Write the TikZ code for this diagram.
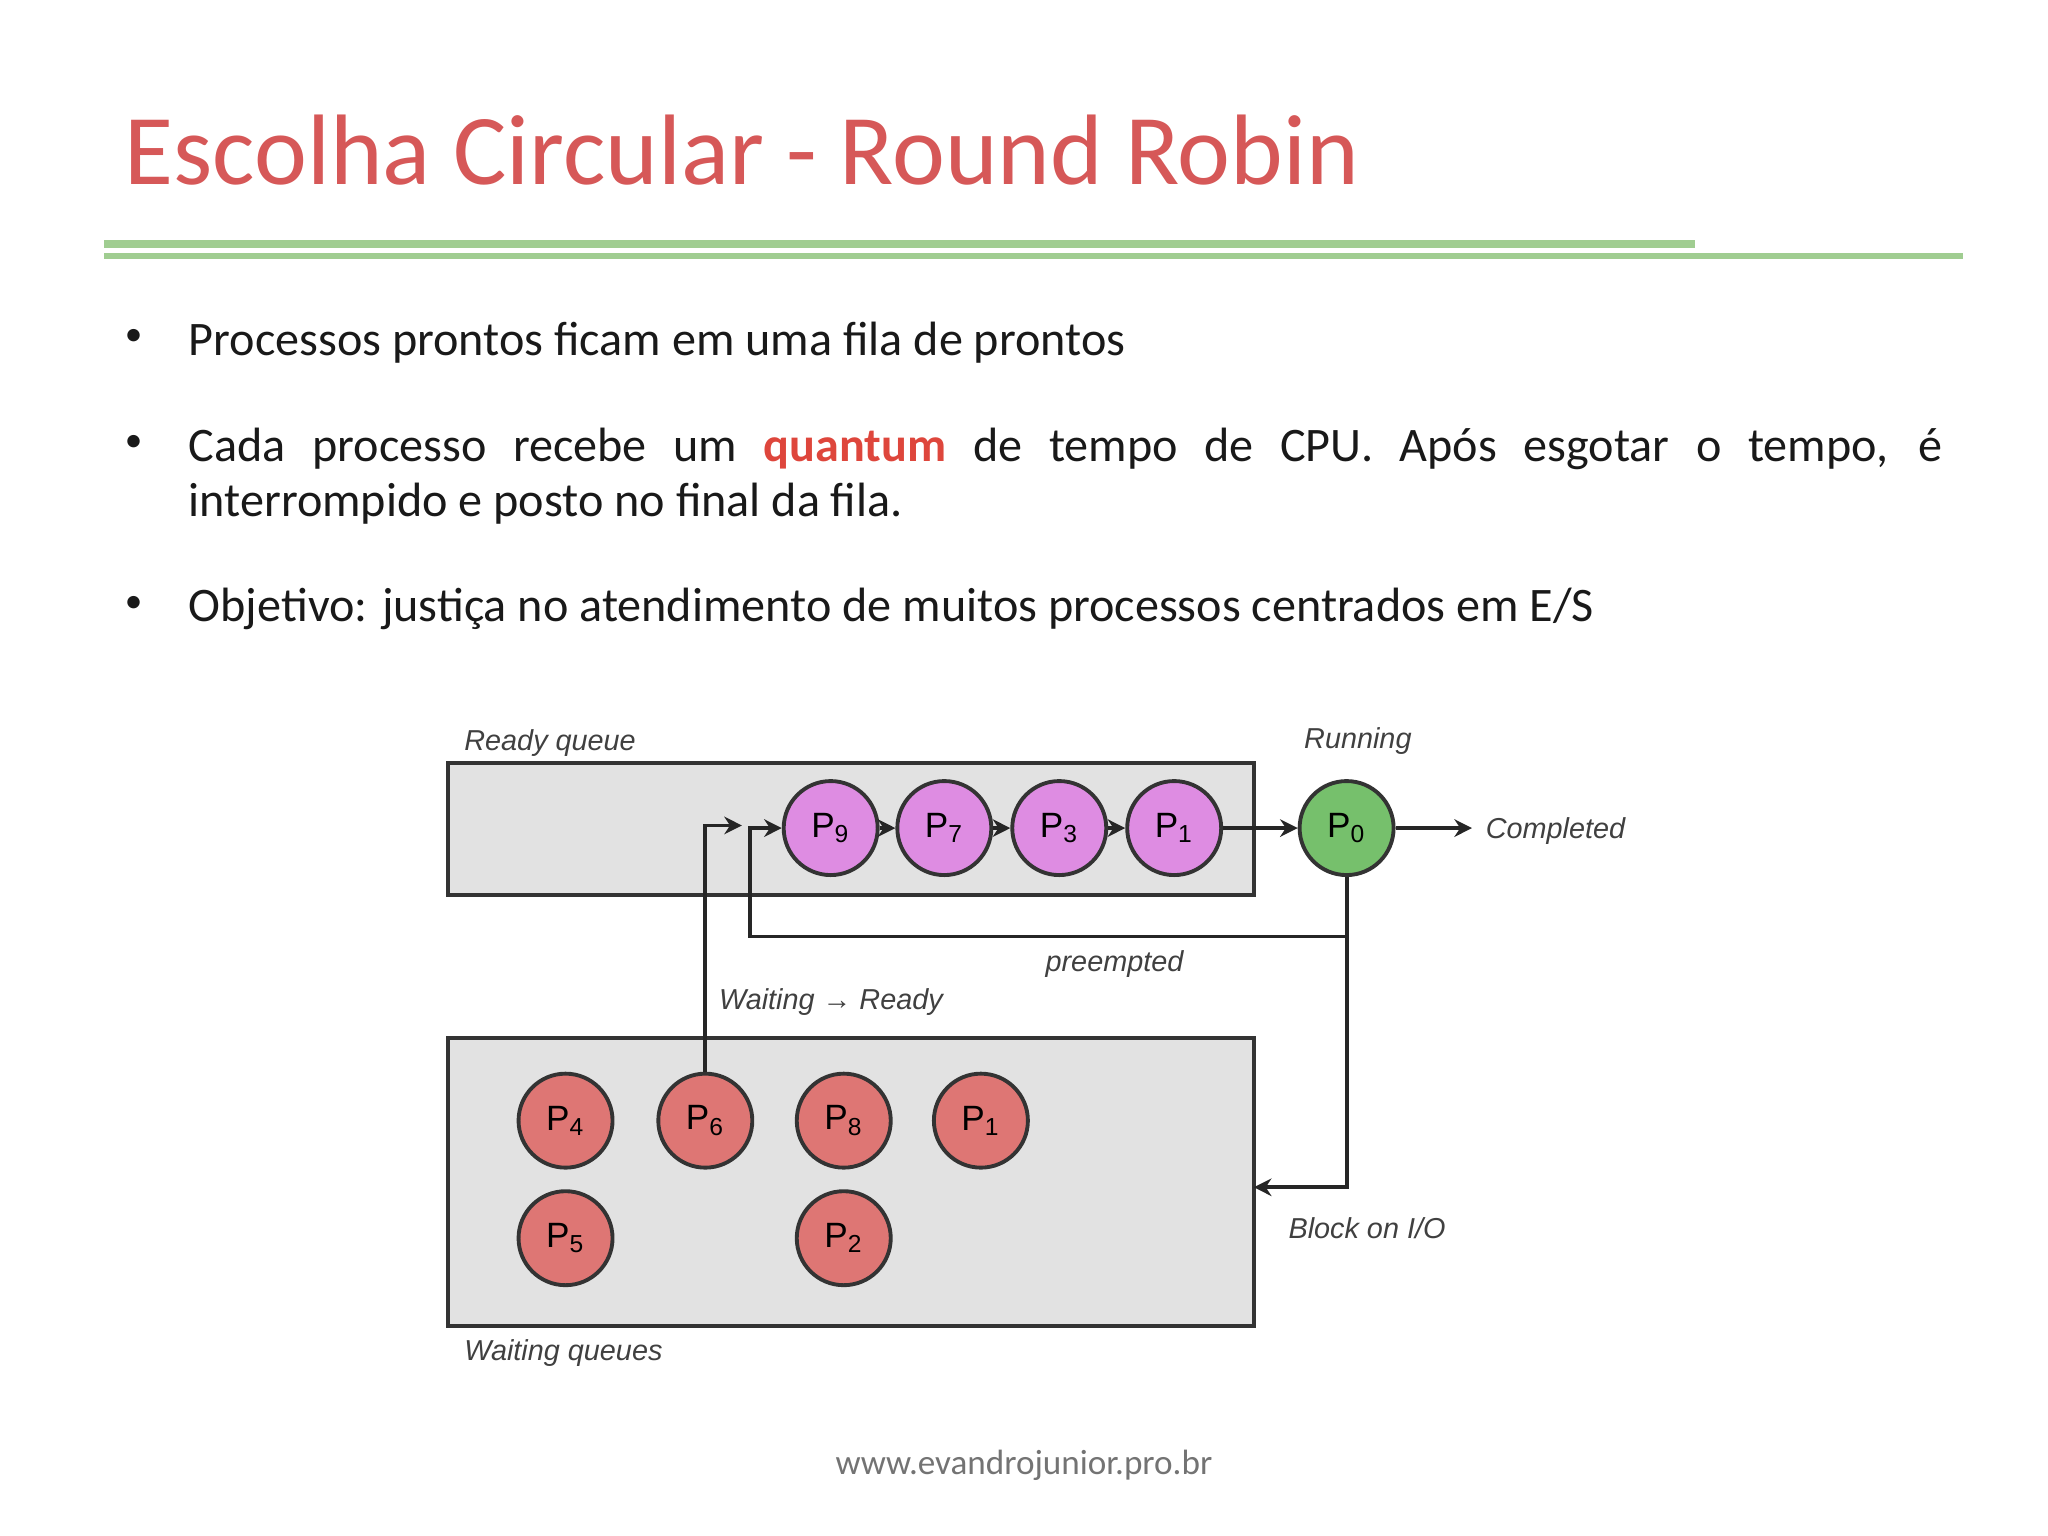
\documentclass[tikz,border=0pt]{standalone}
\usepackage{fontspec}
\setmainfont{Carlito}
\newfontfamily\lab{Liberation Sans}
\usetikzlibrary{arrows.meta}
\definecolor{titlered}{RGB}{214,88,88}
\definecolor{lgreen}{RGB}{160,205,145}
\definecolor{boxgray}{RGB}{226,226,226}
\definecolor{purp}{RGB}{222,140,226}
\definecolor{grn}{RGB}{118,192,108}
\definecolor{rd}{RGB}{222,118,116}
\definecolor{qred}{RGB}{222,70,60}
\tikzset{
  proc/.style={circle,draw=black!80,line width=1.1pt,minimum size=0.94cm,inner sep=0pt,font=\lab\fontsize{10}{12}\selectfont},
  lbl/.style={font=\lab\itshape\fontsize{8.2}{10}\selectfont,text=black!75,inner sep=0pt},
  qbox/.style={draw=black!80,line width=1.1pt,fill=boxgray},
  conn/.style={line width=1.1pt,draw=black!85,-{Stealth[length=5pt,width=5pt]}},
  bul/.style={anchor=north west,inner sep=0pt,font=\fontsize{13.7}{15.6}\selectfont,text=black!90}
}
\begin{document}
\begin{tikzpicture}[x=0.01306cm,y=-0.01306cm]
\useasboundingbox (0,0) rectangle (1568,1176);
\node[anchor=west,inner sep=0pt,text=titlered,font=\fontsize{28.5}{34}\selectfont] (title) at (95,115) {Escolha Circular - Round Robin};
\draw[lgreen,line width=2.2pt] (80,187) -- (1298,187);
\draw[lgreen,line width=1.5pt] (80,196) -- (1503,196);

\node[bul,font=\fontsize{10}{12}\selectfont] (b1d) at (95,252) {•};
\node[bul] (b1) at (144,246) {Processos prontos ficam em uma fila de prontos};
\node[bul,font=\fontsize{10}{12}\selectfont] (b2d) at (95,333) {•};
\node[bul,text width=17.54cm,align=justify] (b2) at (144,327) {Cada processo recebe um \textcolor{qred}{\textbf{quantum}} de tempo de CPU. Após esgotar o tempo, é \mbox{interrompido} e posto no final da fila.};
\node[bul,font=\fontsize{10}{12}\selectfont] (b3d) at (95,456) {•};
\node[bul] (b3) at (144,450) {Objetivo: justiça no atendimento de muitos processos centrados em E/S};

\draw[qbox] (343,584) rectangle (960,685);
\draw[qbox] (343,795) rectangle (960,1015);

\node[proc,fill=purp] (p9) at (636,634) {P\textsubscript{9}};
\node[proc,fill=purp] (p7) at (723,634) {P\textsubscript{7}};
\node[proc,fill=purp] (p3) at (811,634) {P\textsubscript{3}};
\node[proc,fill=purp] (p1) at (899,634) {P\textsubscript{1}};
\node[proc,fill=grn] (p0) at (1031,634) {P\textsubscript{0}};

\node[proc,fill=rd] (w4) at (433,858) {P\textsubscript{4}};
\node[proc,fill=rd] (w6) at (540,858) {P\textsubscript{6}};
\node[proc,fill=rd] (w8) at (646,858) {P\textsubscript{8}};
\node[proc,fill=rd] (w1) at (751,858) {P\textsubscript{1}};
\node[proc,fill=rd] (w5) at (433,948) {P\textsubscript{5}};
\node[proc,fill=rd] (w2) at (646,948) {P\textsubscript{2}};

\draw[conn] (p9) -- (p7);
\draw[conn] (p7) -- (p3);
\draw[conn] (p3) -- (p1);
\draw[conn] (p1) -- (p0);
\coordinate (comp) at (1127,634);
\draw[conn] (p0) -- (comp);
\node[lbl,anchor=west] (lcomp) at (1137,636) {Completed};

\coordinate (pre1) at (1031,717);
\coordinate (pre2) at (574,717);
\coordinate (pre3) at (574,634);
\draw[conn] (p0.south) -- (pre1) -- (pre2) -- (pre3) -- (p9.west);
\coordinate (blk1) at (1031,909);
\coordinate (blk2) at (960,909);
\draw[conn] (pre1) -- (blk1) -- (blk2);
\coordinate (wr1) at (540,632);
\coordinate (wr2) at (568,632);
\draw[conn] (w6.north) -- (wr1) -- (wr2);

\node[lbl,anchor=west] (lrq) at (355,569) {Ready queue};
\node[lbl,anchor=west] (lrun) at (998,567) {Running};
\node[lbl,anchor=west] (lpre) at (800,738) {preempted};
\node[lbl,anchor=west] (lwr) at (550,767) {Waiting → Ready};
\node[lbl,anchor=west] (lblk) at (986,940) {Block on I/O};
\node[lbl,anchor=west] (lwq) at (355,1036) {Waiting queues};

\node[inner sep=0pt,text=black!55,font=\fontsize{10}{12}\selectfont] (foot) at (784,1122) {www.evandrojunior.pro.br};
\end{tikzpicture}
\end{document}
